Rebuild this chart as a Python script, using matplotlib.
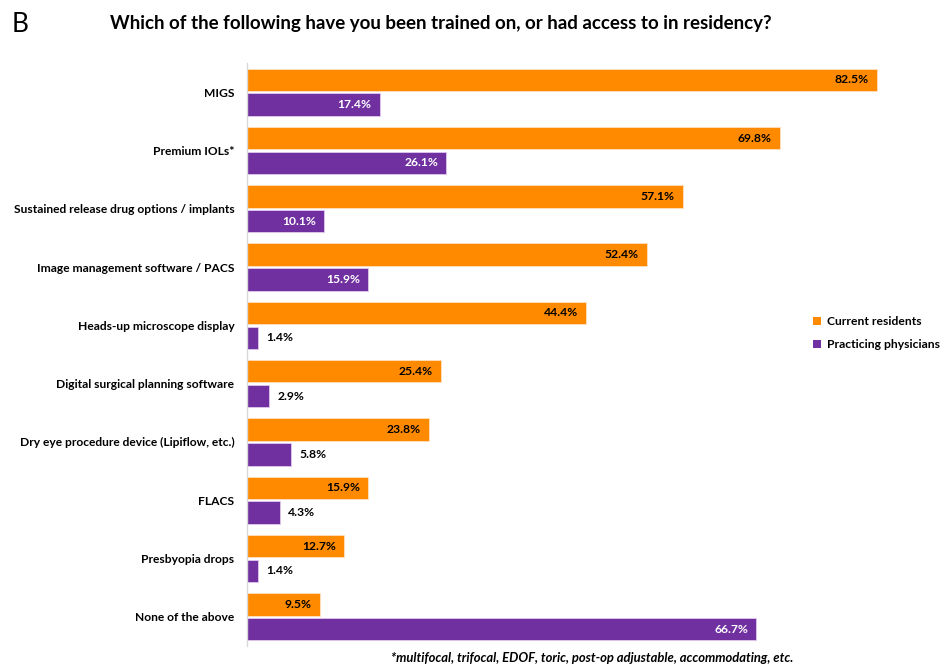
import matplotlib
matplotlib.use("Agg")
import matplotlib.pyplot as plt
from matplotlib.patches import Patch

categories = ["MIGS", "Premium IOLs*", "Sustained release drug options / implants",
              "Image management software / PACS", "Heads-up microscope display",
              "Digital surgical planning software", "Dry eye procedure device (Lipiflow, etc.)",
              "FLACS", "Presbyopia drops", "None of the above"]
residents = [82.5, 69.8, 57.1, 52.4, 44.4, 25.4, 23.8, 15.9, 12.7, 9.5]
physicians = [17.4, 26.1, 10.1, 15.9, 1.4, 2.9, 5.8, 4.3, 1.4, 66.7]
series_names = ["Current residents", "Practicing physicians"]

orange = "#FF8A00"
purple = "#7030A0"
plt.rcParams['font.family'] = ['Lato', 'DejaVu Sans']

fig = plt.figure(figsize=(9.45, 6.66), dpi=100)
W, H = 945, 666
ax = fig.add_axes([247 / W, 1 - 646 / H, (900 - 247) / W, (646 - 63) / H])

n = len(categories)
h = 0.385
ys = list(range(n))
ax.barh([y - h / 2 - 0.02 for y in ys], residents, height=h, color=orange, edgecolor="#FFE0C0", linewidth=0.6)
ax.barh([y + h / 2 + 0.02 for y in ys], physicians, height=h, color=purple, edgecolor="#E0C8F0", linewidth=0.6)
ax.set_ylim(n - 0.5, -0.5)
ax.set_xlim(0, 85.5)

for y, v in zip(ys, residents):
    ax.annotate(f"{v}%", (v, y - h / 2 - 0.02), xytext=(-6, 0), textcoords="offset points",
                ha="right", va="center", fontsize=8.7, fontweight="bold", color="black")
for y, v in zip(ys, physicians):
    if v > 8:
        ax.annotate(f"{v}%", (v, y + h / 2 + 0.02), xytext=(-6, 0), textcoords="offset points",
                    ha="right", va="center", fontsize=8.7, fontweight="bold", color="white")
    else:
        ax.annotate(f"{v}%", (v, y + h / 2 + 0.02), xytext=(6, 0), textcoords="offset points",
                    ha="left", va="center", fontsize=8.7, fontweight="bold", color="black")

ax.set_yticks(ys)
ax.set_yticklabels(categories, fontsize=8.65, fontweight="bold")
ax.tick_params(axis="y", length=0, pad=9)
ax.set_xticks([])
for s in ["top", "right", "bottom"]:
    ax.spines[s].set_visible(False)
ax.spines["left"].set_color("#D9D9D9")
ax.spines["left"].set_linewidth(1)

handles = [Patch(facecolor=orange), Patch(facecolor=purple)]
fig.legend(handles, series_names, loc="center left", bbox_to_anchor=(811 / W, 1 - 333 / H),
           frameon=False, prop={'weight': 'bold', 'size': 8.7},
           handlelength=0.6, handleheight=0.6, handletextpad=0.5, labelspacing=1.0,
           borderaxespad=0, borderpad=0.2)

fig.text(12 / W, 1 - 24 / H, "B", fontsize=19, ha="left", va="center")
fig.text(441 / W, 1 - 24 / H, "Which of the following have you been trained on, or had access to in residency?",
         fontsize=13.5, fontweight="bold", ha="center", va="center")
fig.text(793 / W, 1 - 658 / H, "*multifocal, trifocal, EDOF, toric, post-op adjustable, accommodating, etc.",
         fontsize=9.4, fontweight="bold", style="italic", ha="right", va="center")

fig.savefig("out.png", dpi=100)
